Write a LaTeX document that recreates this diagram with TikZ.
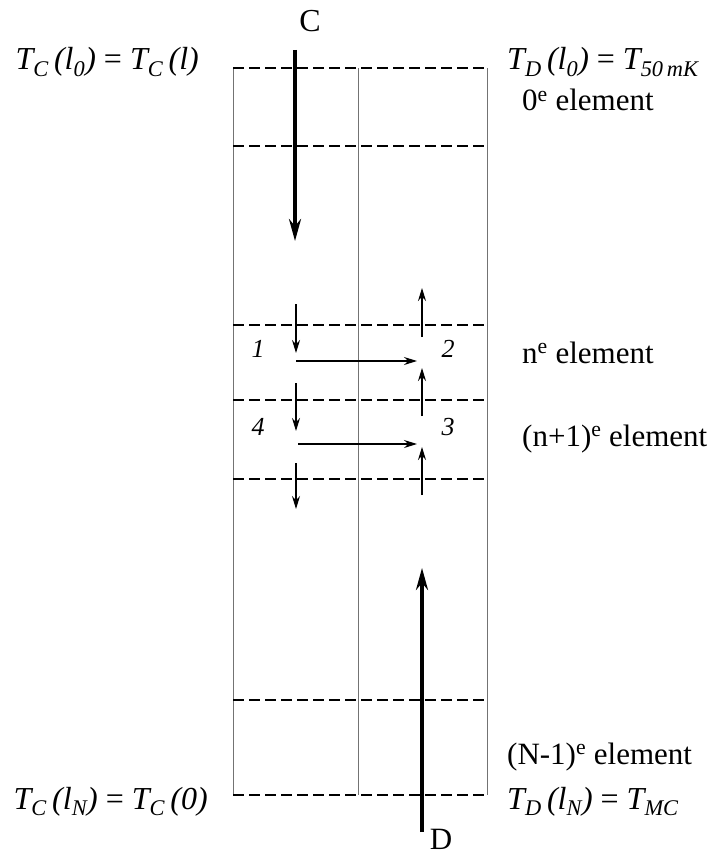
\documentclass[tikz,border=0pt]{standalone}
\usepackage{fontspec}
\setmainfont{Liberation Serif}
\usetikzlibrary{arrows.meta,positioning}
\tikzset{
  wall/.style={draw=black!55,line width=1pt},
  slice/.style={draw=black,line width=1.7pt,dash pattern=on 11pt off 5pt},
  flow/.style={-{Stealth[length=13pt,width=8pt]},line width=1.3pt},
  bigflow/.style={-{Stealth[length=22pt,width=12pt]},line width=3.5pt},
  lbl/.style={font=\fontsize{31}{35}\selectfont,inner sep=0pt},
  tlbl/.style={font=\fontsize{32}{36}\selectfont\itshape,inner sep=0pt},
  num/.style={font=\fontsize{26}{30}\selectfont\itshape,inner sep=0pt},
}
\newcommand{\sbs}[1]{\textsubscript{#1}}

\begin{document}
\begin{tikzpicture}[x=1pt,y=-1pt]
  \useasboundingbox (0,0) rectangle (714,858);
  % walls of the exchanger
  \draw[wall] (233,68) -- (233,795);
  \draw[wall] (358,68) -- (358,795);
  \draw[wall] (487,68) -- (487,795);
  % element boundaries
  \foreach \y in {68,146,325,400,479,700,795}
    \draw[slice] (233,\y) -- (487,\y);
  % main streams
  \node[lbl,font=\fontsize{32}{36}\selectfont] (c) at (310,21) {C};
  \node[lbl,font=\fontsize{31}{35}\selectfont] (d) at (441,839) {D};
  \coordinate (cin) at (295,50);
  \coordinate (cout) at (295,241);
  \coordinate (din) at (422,832);
  \coordinate (dout) at (422,568);
  \draw[bigflow] (cin) -- (cout);
  \draw[bigflow] (din) -- (dout);
  % cells of the n and n+1 elements
  \node[num] (p1) at (258,349) {1};
  \node[num] (p2) at (448,349) {2};
  \node[num] (p3) at (448,427) {3};
  \node[num] (p4) at (258,427) {4};
  \coordinate (a1) at (296,304); \coordinate (b1) at (296,353);
  \coordinate (a2) at (296,383); \coordinate (b2) at (296,431);
  \coordinate (a3) at (296,463); \coordinate (b3) at (296,509);
  \coordinate (u1) at (422,337); \coordinate (v1) at (422,288);
  \coordinate (u2) at (422,416); \coordinate (v2) at (422,368);
  \coordinate (u3) at (422,495); \coordinate (v3) at (422,447);
  \coordinate (h1) at (296,361); \coordinate (k1) at (417,361);
  \coordinate (h2) at (298,444); \coordinate (k2) at (417,444);
  \draw[flow] (a1) -- (b1);
  \draw[flow] (a2) -- (b2);
  \draw[flow] (a3) -- (b3);
  \draw[flow] (u1) -- (v1);
  \draw[flow] (u2) -- (v2);
  \draw[flow] (u3) -- (v3);
  \draw[flow] (h1) -- (k1);
  \draw[flow] (h2) -- (k2);
  % boundary temperatures
  \node[tlbl,anchor=base east] (tc0) at (199,70)
    {T\sbs{C}\,(l\sbs{0}) {\upshape=} T\sbs{C}\,(l)};
  \node[tlbl,anchor=base west] (td0) at (507,70)
    {T\sbs{D}\,(l\sbs{0}) {\upshape=} T\sbs{50\,mK}};
  \node[tlbl,anchor=base east] (tcn) at (208,809)
    {T\sbs{C}\,(l\sbs{N}) {\upshape=} T\sbs{C}\,(0)};
  \node[tlbl,anchor=base west] (tdn) at (507,809)
    {T\sbs{D}\,(l\sbs{N}) {\upshape=} T\sbs{MC}};
  % element names
  \node[lbl,anchor=base west] (e0) at (522,111) {0\textsuperscript{e} element};
  \node[lbl,anchor=base west] (en) at (522,363) {n\textsuperscript{e} element};
  \node[lbl,anchor=base west] (en1) at (522,446) {(n+1)\textsuperscript{e} element};
  \node[lbl,anchor=base west] (eN) at (507,764) {(N-1)\textsuperscript{e} element};
\end{tikzpicture}
\end{document}
